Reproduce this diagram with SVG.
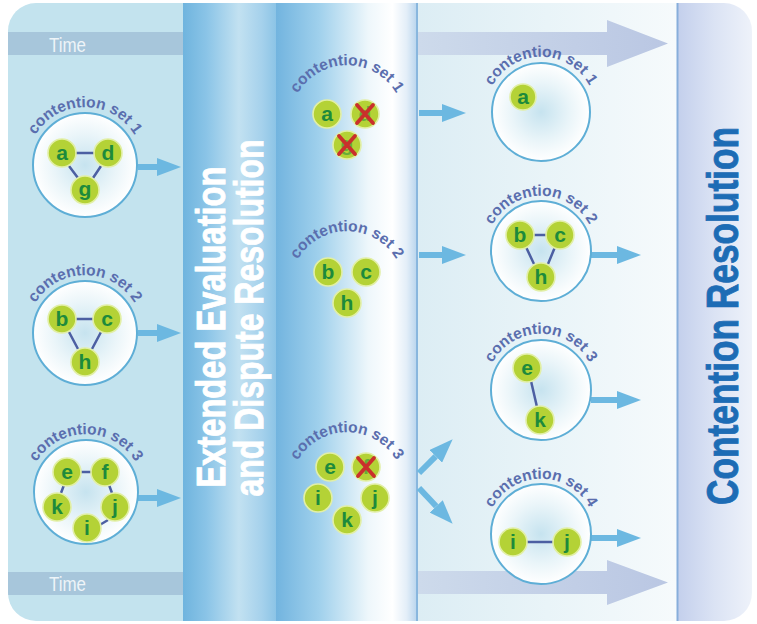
<svg xmlns="http://www.w3.org/2000/svg" width="757" height="624" viewBox="0 0 757 624">
<defs>
<style>
.lbl{font-family:"Liberation Sans",Arial,sans-serif;font-weight:bold;font-size:15.5px;fill:#5a6eae}
.ltr{font-family:"Liberation Sans",Arial,sans-serif;font-weight:bold;font-size:21px;fill:#1d8a3c;text-anchor:middle}
.nd{fill:#b4d236;stroke:#e2efa6;stroke-width:1.6}
.ring{fill:url(#rg);stroke:#5eaed6;stroke-width:2}
.edge{stroke:#4c5fa2;stroke-width:2.5;fill:none}
.xm{stroke:#c9302c;stroke-width:3.8;stroke-linecap:round;fill:none}
.arr{stroke:#6cb8e1;stroke-width:6;fill:none;marker-end:url(#ah)}
.time{font-family:"Liberation Sans",Arial,sans-serif;font-size:20px;fill:#eef4f8}
.col{font-family:"Liberation Sans",Arial,sans-serif;font-weight:bold;text-anchor:middle;stroke-width:0.9}
</style>
<marker id="ah" viewBox="0 0 24 18" refX="0" refY="9" markerWidth="24" markerHeight="18" markerUnits="userSpaceOnUse" orient="auto"><path d="M0,0 L24,9 L0,18 z" fill="#6cb8e1"/></marker>
<radialGradient id="rg" cx="0.5" cy="0.5" r="0.5"><stop offset="0" stop-color="#c6e3ef"/><stop offset="0.6" stop-color="#eaf5f9"/><stop offset="1" stop-color="#ffffff"/></radialGradient>
<linearGradient id="g1" x1="0" y1="0" x2="1" y2="0"><stop offset="0" stop-color="#6fb4de"/><stop offset="0.25" stop-color="#8ac4e7"/><stop offset="0.6" stop-color="#c2e1f1"/><stop offset="0.85" stop-color="#a5d1ec"/><stop offset="1" stop-color="#8cc4e6"/></linearGradient>
<linearGradient id="g2" x1="0" y1="0" x2="1" y2="0"><stop offset="0" stop-color="#72b4df"/><stop offset="0.3" stop-color="#9fd0ec"/><stop offset="0.65" stop-color="#eef7fb"/><stop offset="0.82" stop-color="#ffffff"/><stop offset="0.92" stop-color="#e3eef8"/><stop offset="1" stop-color="#b4d2ec"/></linearGradient>
<linearGradient id="g3" x1="0" y1="0" x2="1" y2="0"><stop offset="0" stop-color="#dcedf4"/><stop offset="0.5" stop-color="#e9f4f8"/><stop offset="1" stop-color="#f6fafc"/></linearGradient>
<linearGradient id="g4" x1="0" y1="0" x2="1" y2="0"><stop offset="0" stop-color="#c3cfec"/><stop offset="0.5" stop-color="#dbe3f4"/><stop offset="1" stop-color="#eef2fa"/></linearGradient>
<linearGradient id="gt" x1="0" y1="0" x2="1" y2="0"><stop offset="0" stop-color="#cddaeb"/><stop offset="1" stop-color="#bac7e3"/></linearGradient>
<clipPath id="frame"><rect x="8" y="3" width="744" height="618" rx="28"/></clipPath>
<path id="aL1" d="M27.9,154.9 A58,58 0 0 1 142.1,154.9"/>
<path id="aL2" d="M27.9,322.9 A58,58 0 0 1 142.1,322.9"/>
<path id="aL3" d="M28.9,481.9 A58,58 0 0 1 143.1,481.9"/>
<path id="aM1" d="M290.9,112.1 A57,57 0 0 1 403.1,112.1"/>
<path id="aM2" d="M290.9,278.1 A57,57 0 0 1 403.1,278.1"/>
<path id="aM3" d="M290.9,479.1 A57,57 0 0 1 403.1,479.1"/>
<path id="aR1" d="M486.8,102.4 A55,55 0 0 1 595.2,102.4"/>
<path id="aR2" d="M486.8,241.4 A55,55 0 0 1 595.2,241.4"/>
<path id="aR3" d="M486.8,379.4 A55,55 0 0 1 595.2,379.4"/>
<path id="aR4" d="M486.8,524.4 A55,55 0 0 1 595.2,524.4"/>
</defs>

<g id="background" clip-path="url(#frame)">
<rect x="8" y="3" width="744" height="618" fill="#ffffff"/>
<rect x="8" y="3" width="175" height="618" fill="#c3e3ee"/>
<rect x="8" y="32" width="175" height="23" fill="#a7c6db"/>
<rect x="8" y="572" width="175" height="23" fill="#a7c6db"/>
<rect x="183" y="3" width="93" height="618" fill="url(#g1)"/>
<rect x="276" y="3" width="142" height="618" fill="url(#g2)"/>
<rect x="418" y="3" width="259" height="618" fill="url(#g3)"/>
<rect x="677" y="3" width="75" height="618" fill="url(#g4)"/>
<line x1="417" y1="3" x2="417" y2="621" stroke="#78acd8" stroke-width="1.5"/>
<line x1="677.5" y1="3" x2="677.5" y2="621" stroke="#87aedb" stroke-width="2"/>
<polygon points="418,32 607,32 607,20 668,43.5 607,67 607,55 418,55" fill="url(#gt)"/>
<polygon points="418,571 607,571 607,560 668,582.5 607,605 607,594 418,594" fill="url(#gt)"/>
</g>

<g id="labels">
<text class="time" x="49" y="52" textLength="37" lengthAdjust="spacingAndGlyphs">Time</text>
<text class="time" x="49" y="591" textLength="37" lengthAdjust="spacingAndGlyphs">Time</text>
<text class="col" font-size="41" fill="#ffffff" stroke="#ffffff" transform="translate(225,327) rotate(-90)" textLength="321" lengthAdjust="spacingAndGlyphs">Extended Evaluation</text>
<text class="col" font-size="41" fill="#ffffff" stroke="#ffffff" transform="translate(263,318) rotate(-90)" textLength="357" lengthAdjust="spacingAndGlyphs">and Dispute Resolution</text>
<text class="col" font-size="44" fill="#1d6cb5" stroke="#1d6cb5" transform="translate(738,316) rotate(-90)" textLength="378" lengthAdjust="spacingAndGlyphs">Contention Resolution</text>
</g>

<g id="connectors">
<line class="arr" x1="138" y1="167" x2="157" y2="167"/>
<line class="arr" x1="138" y1="333" x2="157" y2="333"/>
<line class="arr" x1="138" y1="498" x2="157" y2="498"/>
<line class="arr" x1="419" y1="113" x2="442" y2="113"/>
<line class="arr" x1="419" y1="255" x2="442" y2="255"/>
<line class="arr" x1="419" y1="473" x2="435.7" y2="456.3"/>
<line class="arr" x1="419" y1="488" x2="436.2" y2="506.3"/>
<line class="arr" x1="591" y1="255" x2="617" y2="255"/>
<line class="arr" x1="591" y1="400" x2="617" y2="400"/>
<line class="arr" x1="591" y1="538" x2="617" y2="538"/>
</g>

<g id="left-set-1">
<circle class="ring" cx="85" cy="165" r="52"/>
<text class="lbl"><textPath href="#aL1" startOffset="50%" text-anchor="middle">contention set 1</textPath></text>
<path class="edge" d="M76,153 H94 M69,166 L78,178 M101,166 L93,178"/>
<circle class="nd" cx="62" cy="153" r="14"/><text class="ltr" x="62" y="160">a</text>
<circle class="nd" cx="108" cy="153" r="14"/><text class="ltr" x="108" y="160">d</text>
<circle class="nd" cx="85" cy="190" r="14"/><text class="ltr" x="85" y="196">g</text>
</g>

<g id="left-set-2">
<circle class="ring" cx="85" cy="333" r="52"/>
<text class="lbl"><textPath href="#aL2" startOffset="50%" text-anchor="middle">contention set 2</textPath></text>
<path class="edge" d="M76,319 H94 M69,332 L78,349 M101,332 L92,349"/>
<circle class="nd" cx="62" cy="319" r="14"/><text class="ltr" x="62" y="326">b</text>
<circle class="nd" cx="107" cy="319" r="14"/><text class="ltr" x="107" y="326">c</text>
<circle class="nd" cx="85" cy="362" r="14"/><text class="ltr" x="85" y="369">h</text>
</g>

<g id="left-set-3">
<circle class="ring" cx="86" cy="492" r="52"/>
<text class="lbl"><textPath href="#aL3" startOffset="50%" text-anchor="middle">contention set 3</textPath></text>
<path class="edge" d="M81,472 H92 M64,485 L61,493 M109,485 L112,493 M108,520 L98,526"/>
<circle class="nd" cx="67" cy="472" r="14"/><text class="ltr" x="67" y="479">e</text>
<circle class="nd" cx="105" cy="472" r="14"/><text class="ltr" x="105" y="479">f</text>
<circle class="nd" cx="57" cy="507" r="14"/><text class="ltr" x="57" y="514">k</text>
<circle class="nd" cx="115" cy="507" r="14"/><text class="ltr" x="115" y="514">j</text>
<circle class="nd" cx="87" cy="528" r="14"/><text class="ltr" x="87" y="535">i</text>
</g>

<g id="mid-set-1">
<text class="lbl"><textPath href="#aM1" startOffset="50%" text-anchor="middle">contention set 1</textPath></text>
<circle class="nd" cx="327" cy="114" r="14"/><text class="ltr" x="327" y="121">a</text>
<circle class="nd" cx="365" cy="114" r="14"/><text class="ltr" x="365" y="121" opacity="0.5">d</text>
<path class="xm" d="M357,105 L373,123 M373,105 L357,123"/>
<circle class="nd" cx="347" cy="145" r="14"/><text class="ltr" x="347" y="151" opacity="0.5">g</text>
<path class="xm" d="M339,136 L355,154 M355,136 L339,154"/>
</g>

<g id="mid-set-2">
<text class="lbl"><textPath href="#aM2" startOffset="50%" text-anchor="middle">contention set 2</textPath></text>
<circle class="nd" cx="328" cy="272" r="14"/><text class="ltr" x="328" y="279">b</text>
<circle class="nd" cx="366" cy="272" r="14"/><text class="ltr" x="366" y="279">c</text>
<circle class="nd" cx="347" cy="303" r="14"/><text class="ltr" x="347" y="310">h</text>
</g>

<g id="mid-set-3">
<text class="lbl"><textPath href="#aM3" startOffset="50%" text-anchor="middle">contention set 3</textPath></text>
<circle class="nd" cx="330" cy="467" r="14"/><text class="ltr" x="330" y="474">e</text>
<circle class="nd" cx="366" cy="467" r="14"/><text class="ltr" x="366" y="474" opacity="0.5">f</text>
<path class="xm" d="M358,458 L374,476 M374,458 L358,476"/>
<circle class="nd" cx="318" cy="498" r="14"/><text class="ltr" x="318" y="505">i</text>
<circle class="nd" cx="375" cy="498" r="14"/><text class="ltr" x="375" y="505">j</text>
<circle class="nd" cx="347" cy="520" r="14"/><text class="ltr" x="347" y="527">k</text>
</g>

<g id="right-set-1">
<circle class="ring" cx="541" cy="112" r="49"/>
<text class="lbl"><textPath href="#aR1" startOffset="50%" text-anchor="middle">contention set 1</textPath></text>
<circle class="nd" cx="523" cy="97" r="13"/><text class="ltr" x="523" y="104">a</text>
</g>

<g id="right-set-2">
<circle class="ring" cx="541" cy="251" r="50"/>
<text class="lbl"><textPath href="#aR2" startOffset="50%" text-anchor="middle">contention set 2</textPath></text>
<path class="edge" d="M533,235 H547 M526,247 L534,264 M555,247 L548,264"/>
<circle class="nd" cx="520" cy="235" r="14"/><text class="ltr" x="520" y="242">b</text>
<circle class="nd" cx="560" cy="235" r="14"/><text class="ltr" x="560" y="242">c</text>
<circle class="nd" cx="541" cy="277" r="14"/><text class="ltr" x="541" y="284">h</text>
</g>

<g id="right-set-3">
<circle class="ring" cx="541" cy="390" r="50"/>
<text class="lbl"><textPath href="#aR3" startOffset="50%" text-anchor="middle">contention set 3</textPath></text>
<path class="edge" d="M531,381 L537,407"/>
<circle class="nd" cx="527" cy="368" r="14"/><text class="ltr" x="527" y="375">e</text>
<circle class="nd" cx="540" cy="420" r="14"/><text class="ltr" x="540" y="427">k</text>
</g>

<g id="right-set-4">
<circle class="ring" cx="541" cy="534" r="50"/>
<text class="lbl"><textPath href="#aR4" startOffset="50%" text-anchor="middle">contention set 4</textPath></text>
<path class="edge" d="M527,542 H553"/>
<circle class="nd" cx="513" cy="542" r="14"/><text class="ltr" x="513" y="549">i</text>
<circle class="nd" cx="567" cy="542" r="14"/><text class="ltr" x="567" y="549">j</text>
</g>
</svg>
